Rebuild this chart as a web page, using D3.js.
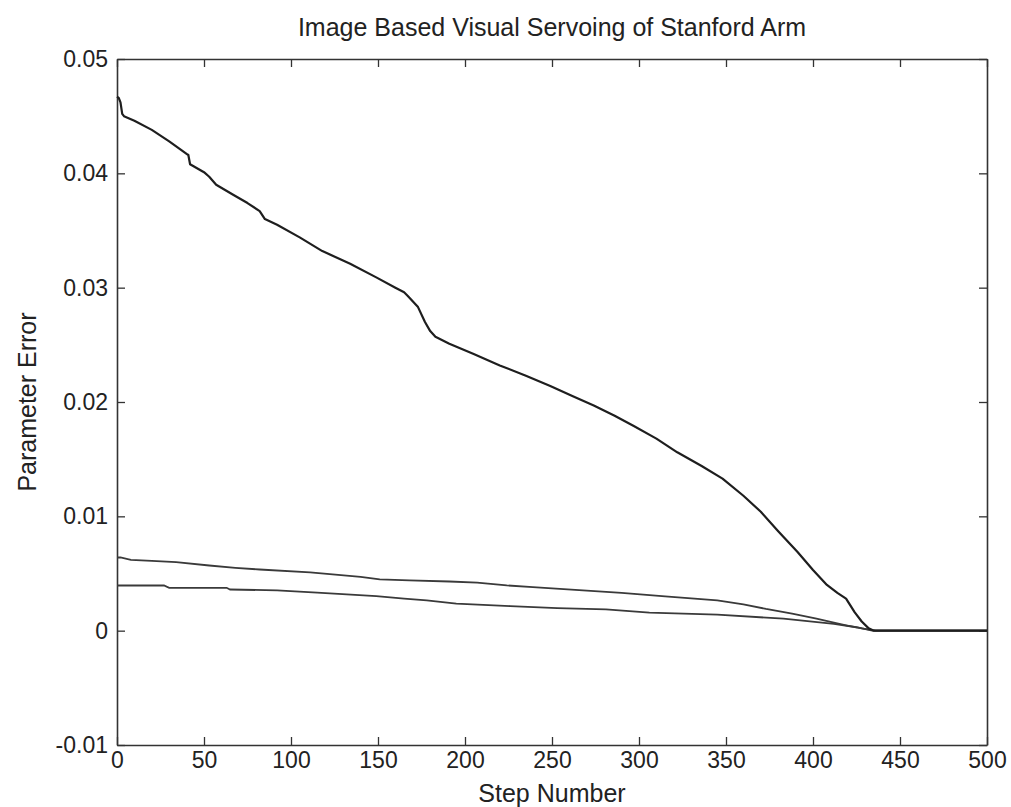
<!DOCTYPE html>
<html>
<head>
<meta charset="utf-8">
<script src="https://d3js.org/d3.v7.min.js"></script>
<style>
  body { margin: 0; background: #fff; }
  text { font-family: "Liberation Sans", Arial, sans-serif; fill: #222; }
</style>
</head>
<body>
<div id="chart"></div>
<script>
'use strict';

// step number / parameter error
var seriesA = [
  [0, 0.0467], [1, 0.0466], [2, 0.0462], [3, 0.0452], [4, 0.0450], [10, 0.0446],
  [20, 0.0438], [30, 0.0428], [40, 0.0417], [41, 0.0416], [42, 0.0408], [50, 0.0401],
  [53, 0.0397], [57, 0.0390], [67, 0.0381], [75, 0.0374], [82, 0.0367], [85, 0.0360],
  [92, 0.0355], [105, 0.0344], [118, 0.0332], [134, 0.0321], [149, 0.0309], [160, 0.0300],
  [165, 0.0296], [167, 0.0293], [173, 0.0283], [177, 0.0270], [180, 0.0262], [183, 0.0257],
  [191, 0.0251], [205, 0.0242], [220, 0.0232], [235, 0.0223], [249, 0.0214], [262, 0.0205],
  [274, 0.0197], [286, 0.0188], [297, 0.0179], [310, 0.0168], [322, 0.0156], [336, 0.0144],
  [348, 0.0133], [360, 0.0118], [370, 0.0104], [380, 0.0087], [391, 0.0069], [400, 0.0053],
  [408, 0.0040], [414, 0.0033], [419, 0.0028], [424, 0.0016], [428, 0.0008], [432, 0.0002],
  [435, 0], [500, 0]
];
var seriesB = [
  [0, 0.0064], [2, 0.0064], [8, 0.0062], [20, 0.0061], [34, 0.0060], [53, 0.0057],
  [68, 0.0055], [82, 0.00535], [111, 0.0051], [140, 0.0047], [151, 0.00448], [168, 0.0044],
  [191, 0.0043], [207, 0.0042], [224, 0.00396], [239, 0.0038], [270, 0.0035], [290, 0.0033],
  [315, 0.0030], [345, 0.00265], [360, 0.0023], [373, 0.0019], [388, 0.0015], [402, 0.00105],
  [412, 0.0007], [419, 0.00047], [428, 0.0002], [436, 0], [500, 0]
];
var seriesC = [
  [0, 0.00395], [27, 0.00395], [30, 0.00375], [63, 0.00375], [65, 0.0036], [92, 0.00352],
  [115, 0.00332], [149, 0.00303], [165, 0.0028], [178, 0.00265], [195, 0.00236], [226, 0.00215],
  [253, 0.00198], [281, 0.00187], [306, 0.00157], [345, 0.0014], [383, 0.00105], [412, 0.0006],
  [425, 0.0003], [434, 0], [500, 0]
];
var xTicks = [0, 50, 100, 150, 200, 250, 300, 350, 400, 450, 500];
var yTicks = [-0.01, 0, 0.01, 0.02, 0.03, 0.04, 0.05];

var W = 1011, H = 807;
var margin = { top: 59, right: 24, bottom: 62, left: 117 };
var w = W - margin.left - margin.right;
var h = H - margin.top - margin.bottom;

var svg = d3.select('#chart').append('svg')
    .attr('width', W)
    .attr('height', H);
var g = svg.append('g')
    .attr('transform', 'translate(' + margin.left + ',' + margin.top + ')');

var x = d3.scaleLinear().domain([0, 500]).range([0, w]);
var y = d3.scaleLinear().domain([-0.01, 0.05]).range([h, 0]);

// plain hyphen, like the original
function fmtY(d) { return d === 0 ? '0' : d3.format('.2f')(d).replace('\u2212', '-'); }

// MATLAB style box with inward ticks on every side
var tickLen = 8;
var axes = [
  { ax: d3.axisBottom(x).tickValues(xTicks).tickFormat(d3.format('d')), tr: [0, h], pad: 7 },
  { ax: d3.axisTop(x).tickValues(xTicks).tickFormat(''), tr: [0, 0], pad: 7 },
  { ax: d3.axisLeft(y).tickValues(yTicks).tickFormat(fmtY), tr: [0, 0], pad: 9 },
  { ax: d3.axisRight(y).tickValues(yTicks).tickFormat(''), tr: [w, 0], pad: 9 }
];
axes.forEach(function(a) {
  var sel = g.append('g')
      .attr('transform', 'translate(' + a.tr[0] + ',' + a.tr[1] + ')')
      .call(a.ax.tickSizeInner(-tickLen).tickSizeOuter(0).tickPadding(a.pad));
  sel.select('.domain').attr('stroke', '#333').attr('stroke-width', 1.6);
  sel.selectAll('.tick line').attr('stroke', '#333').attr('stroke-width', 1.3);
  sel.selectAll('.tick text')
      .attr('font-size', 23)
      .attr('font-family', '"Liberation Sans", Arial, sans-serif')
      .attr('fill', '#222');
});

var line = d3.line()
    .x(function(d) { return x(d[0]); })
    .y(function(d) { return y(d[1]); });

g.append('path').datum(seriesC)
    .attr('fill', 'none').attr('stroke', '#3a3a3a').attr('stroke-width', 1.8)
    .attr('d', line);
g.append('path').datum(seriesB)
    .attr('fill', 'none').attr('stroke', '#3a3a3a').attr('stroke-width', 1.8)
    .attr('d', line);
g.append('path').datum(seriesA)
    .attr('fill', 'none').attr('stroke', '#1e1e1e').attr('stroke-width', 2.2)
    .attr('stroke-linejoin', 'round')
    .attr('d', line);

svg.append('text')
    .text('Image Based Visual Servoing of Stanford Arm')
    .attr('x', margin.left + w / 2)
    .attr('y', 36)
    .attr('font-size', 25)
    .style('text-anchor', 'middle');
svg.append('text')
    .text('Step Number')
    .attr('x', margin.left + w / 2)
    .attr('y', 802)
    .attr('font-size', 25)
    .style('text-anchor', 'middle');
svg.append('text')
    .text('Parameter Error')
    .attr('transform', 'translate(36,' + (margin.top + h / 2) + ') rotate(-90)')
    .attr('font-size', 25)
    .style('text-anchor', 'middle');
</script>
</body>
</html>
